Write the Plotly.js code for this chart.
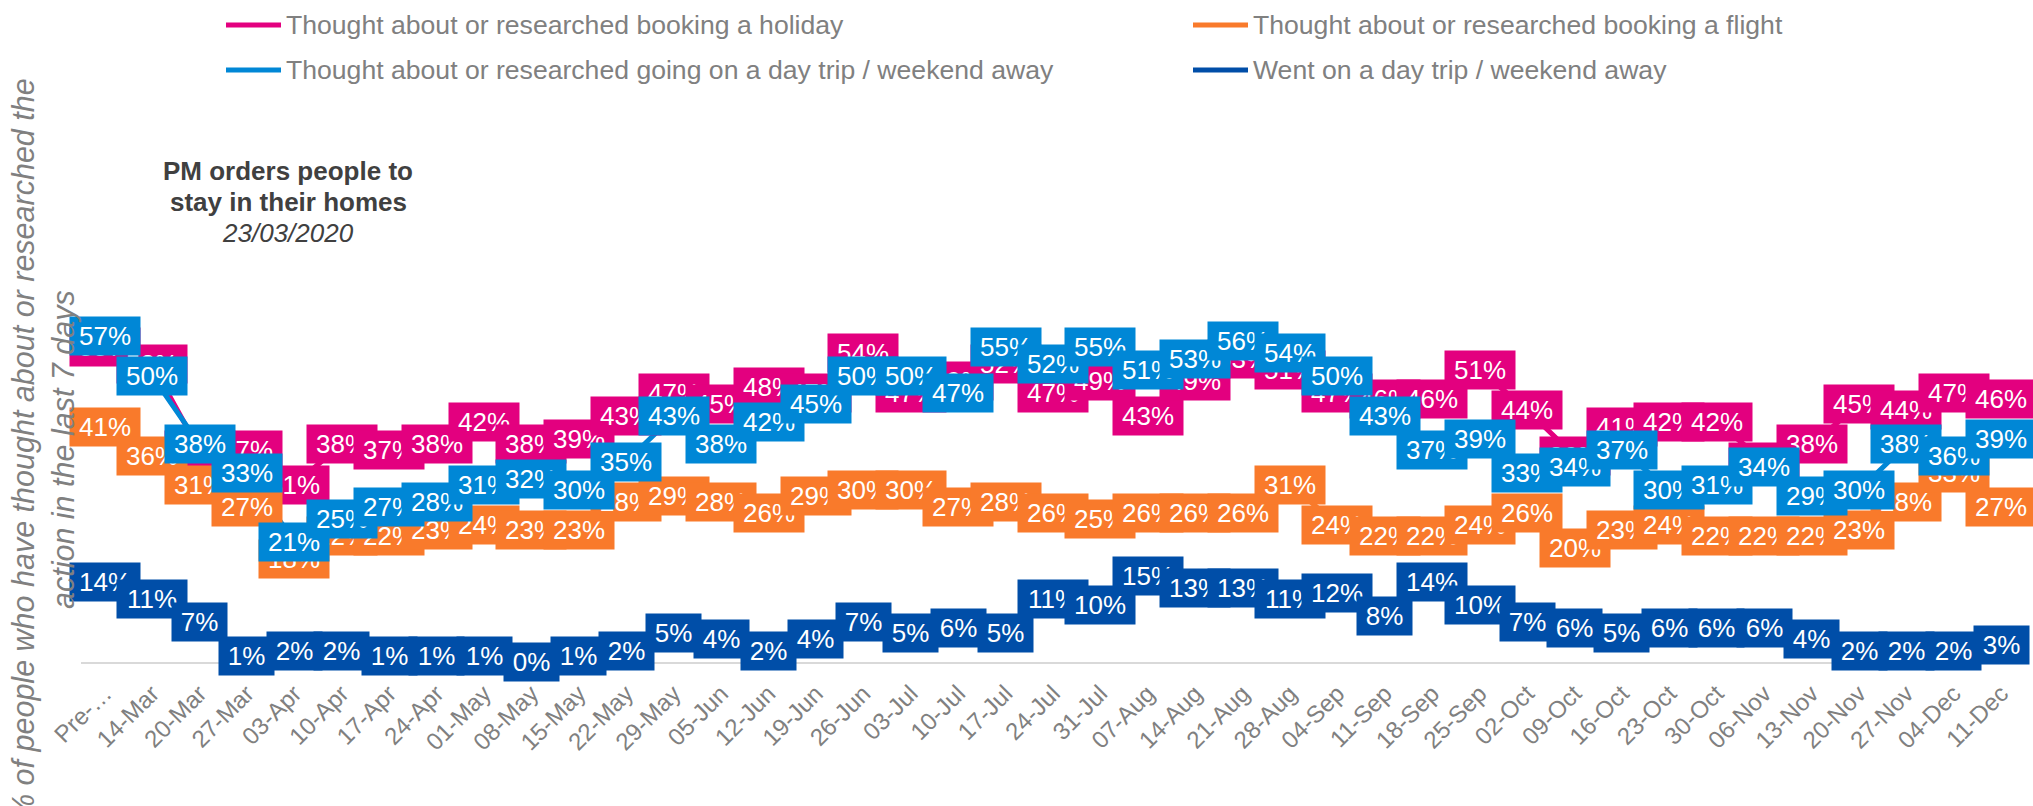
<!DOCTYPE html>
<html>
<head>
<meta charset="utf-8">
<script src="https://cdn.plot.ly/plotly-3.0.1.min.js"></script>
<style>html,body{margin:0;padding:0;background:#fff;}#chart{width:2033px;height:806px;}</style>
</head>
<body>
<div id="chart"></div>
<script>
// ---- data ----
const categories = ['Pre-…','14-Mar','20-Mar','27-Mar','03-Apr','10-Apr','17-Apr','24-Apr','01-May','08-May','15-May','22-May','29-May','05-Jun','12-Jun','19-Jun','26-Jun','03-Jul','10-Jul','17-Jul','24-Jul','31-Jul','07-Aug','14-Aug','21-Aug','28-Aug','04-Sep','11-Sep','18-Sep','25-Sep','02-Oct','09-Oct','16-Oct','23-Oct','30-Oct','06-Nov','13-Nov','20-Nov','27-Nov','04-Dec','11-Dec'];
const seriesNames = ['Thought about or researched booking a holiday','Thought about or researched booking a flight','Thought about or researched going on a day trip / weekend away','Went on a day trip / weekend away'];
const holiday = [55,52,37,37,31,38,37,38,42,38,39,43,47,45,48,47,54,47,49,52,47,49,43,49,53,51,47,46,46,51,44,36,41,42,42,35,38,45,44,47,46];
const flight  = [41,36,31,27,18,22,22,23,24,23,23,28,29,28,26,29,30,30,27,28,26,25,26,26,26,31,24,22,22,24,26,20,23,24,22,22,22,23,28,33,27];
const dayTripThought = [57,50,38,33,21,25,27,28,31,32,30,35,43,38,42,45,50,50,47,55,52,55,51,53,56,54,50,43,37,39,33,34,37,30,31,34,29,30,38,36,39];
const dayTripWent = [14,11,7,1,2,2,1,1,1,0,1,2,5,4,2,4,7,5,6,5,11,10,15,13,13,11,12,8,14,10,7,6,5,6,6,6,4,2,2,2,3];
const colors = ['#E3007F','#F97A2B','#0087D6','#004EA8'];
const allSeries = [holiday, flight, dayTripThought, dayTripWent];
const annotationTitle = ['PM orders people to','stay in their homes','23/03/2020'];
const yTitle = ['% of people who have thought about or researched the','action in the last 7 days'];

// ---- layout geometry ----
const W = 2033, H = 806;
const M = {l: 81, r: 8, t: 204, b: 144};
const PW = W - M.l - M.r, PH = H - M.t - M.b;
const px2x = p => (p - M.l) / PW;
const px2y = p => (H - M.b - p) / PH;
const FONT = 'Liberation Sans, Arial, sans-serif';
const GREY = '#808080';

const traces = allSeries.map((vals, i) => ({
  type: 'scatter', mode: 'lines', name: seriesNames[i],
  x: categories, y: vals,
  line: {color: colors[i], width: 5},
  showlegend: false, hoverinfo: 'skip'
}));

const annotations = [];
allSeries.forEach((vals, i) => {
  vals.forEach((v, j) => {
    annotations.push({
      x: categories[j], y: v, xref: 'x', yref: 'y',
      text: v + '%', showarrow: false,
      font: {family: FONT, size: 26, color: '#FFFFFF'},
      bgcolor: colors[i], borderpad: 0,
      width: v < 10 ? 55 : 70, height: 38,
      xanchor: 'center', yanchor: 'middle', align: 'center', valign: 'middle'
    });
  });
});

// PM annotation
const pmY = [171, 202, 233];
annotationTitle.forEach((t, k) => {
  annotations.push({
    xref: 'paper', yref: 'paper', x: px2x(288), y: px2y(pmY[k]),
    text: k < 2 ? '<b>' + t + '</b>' : '<i>' + t + '</i>',
    showarrow: false, xanchor: 'center', yanchor: 'middle',
    font: {family: FONT, size: 26, color: '#404040'}
  });
});

// y-axis title
annotations.push({
  xref: 'paper', yref: 'paper', x: px2x(43), y: px2y(450),
  text: '<i>' + yTitle[0] + '<br>' + yTitle[1] + '</i>',
  textangle: -90, showarrow: false, xanchor: 'center', yanchor: 'middle',
  font: {family: FONT, size: 30.5, color: GREY}
});

// manual legend
const shapes = [];
const legPos = [[226, 25], [1193, 25], [226, 70], [1193, 70]];
legPos.forEach((p, i) => {
  shapes.push({type: 'line', xref: 'paper', yref: 'paper',
    x0: px2x(p[0]), x1: px2x(p[0] + 55), y0: px2y(p[1]), y1: px2y(p[1]),
    line: {color: colors[i], width: 5}});
  annotations.push({xref: 'paper', yref: 'paper', x: px2x(p[0] + 58), y: px2y(p[1]),
    text: seriesNames[i], showarrow: false, xanchor: 'left', yanchor: 'middle',
    font: {family: FONT, size: 26.6, color: GREY}});
});

const layout = {
  width: W, height: H, margin: M,
  paper_bgcolor: '#FFFFFF', plot_bgcolor: '#FFFFFF',
  font: {family: FONT},
  showlegend: false,
  xaxis: {type: 'category', range: [-0.5, categories.length - 0.5],
    showline: true, linecolor: '#D9D9D9', linewidth: 2,
    showgrid: false, zeroline: false, ticks: '', ticklabelstandoff: 6,
    tickangle: -45, tickfont: {family: FONT, size: 24, color: GREY}},
  yaxis: {range: [0, 80], showgrid: false, zeroline: false,
    showticklabels: false, showline: false, ticks: ''},
  annotations: annotations, shapes: shapes
};

Plotly.newPlot('chart', traces, layout, {displayModeBar: false, staticPlot: true});
</script>
</body>
</html>
